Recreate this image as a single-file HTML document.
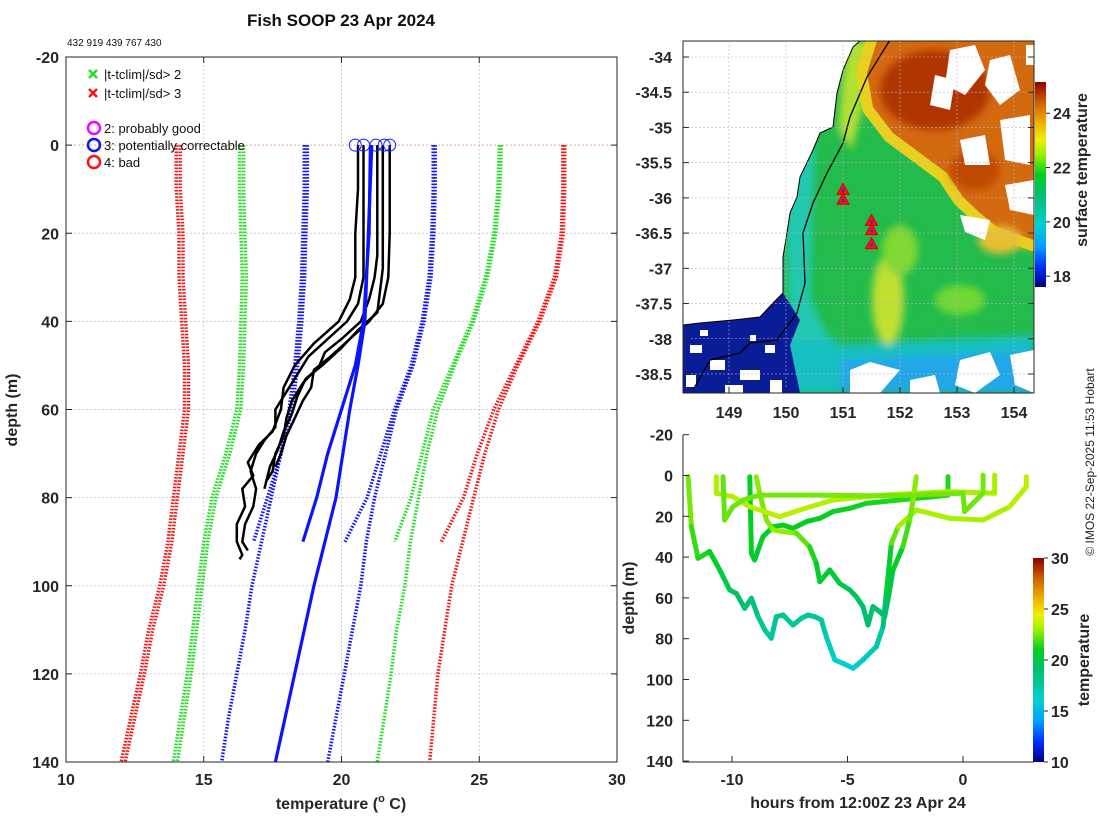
<!DOCTYPE html>
<html><head><meta charset="utf-8"><title>Fish SOOP 23 Apr 2024</title>
<style>
html,body{margin:0;padding:0;background:#fff;}
svg{display:block;font-family:"Liberation Sans","DejaVu Sans",sans-serif;}
.tk{font-weight:bold;font-size:16px;fill:#262626;}
.lb{font-weight:bold;font-size:16px;fill:#262626;}
</style></head>
<body>
<svg id="fig" width="1100" height="820" viewBox="0 0 1100 820">
<defs>
<clipPath id="clipMain"><rect x="66" y="57" width="551" height="705"/></clipPath>
<clipPath id="clipMap"><rect x="683" y="41" width="351" height="352"/></clipPath>
<clipPath id="clipBot"><rect x="683" y="410" width="350" height="352"/></clipPath>
<linearGradient id="cmapV" x1="0" y1="1" x2="0" y2="0">
<stop offset="0" stop-color="#000080"/><stop offset="0.1" stop-color="#0030ff"/><stop offset="0.2" stop-color="#00a0ff"/><stop offset="0.3" stop-color="#00d0d0"/><stop offset="0.45" stop-color="#00c070"/><stop offset="0.55" stop-color="#00d020"/><stop offset="0.65" stop-color="#a0f000"/><stop offset="0.72" stop-color="#f0f000"/><stop offset="0.8" stop-color="#f0b000"/><stop offset="0.9" stop-color="#d06000"/><stop offset="1" stop-color="#900000"/>
</linearGradient>
<filter id="soft"><feGaussianBlur stdDeviation="4"/></filter>
</defs>

<text x="341" y="26" text-anchor="middle" font-weight="bold" font-size="17" fill="#111">Fish SOOP 23 Apr 2024</text>
<text x="67" y="46" font-size="10" fill="#111">432 919 439 767 430</text>

<g id="mainAxes"></g>

<g id="map">
 <g clip-path="url(#clipMap)">
  <rect x="683" y="41" width="351" height="352" fill="#22bb4c"/>
  <g filter="url(#soft)">
   <polygon points="683,300 800,310 840,345 1034,335 1034,393 683,393" fill="#18c0c0"/>
   <polygon points="840,360 1034,350 1034,393 840,393" fill="#20a8e8"/>
   <polygon points="795,140 815,150 812,230 810,300 830,340 790,340 785,200" fill="#20c8b0"/>
   <ellipse cx="888" cy="300" rx="16" ry="45" fill="#c0e030"/>
   <ellipse cx="900" cy="250" rx="18" ry="25" fill="#80d830"/>
   <ellipse cx="960" cy="300" rx="25" ry="15" fill="#70d830"/>
   <polygon points="848,41 880,41 862,110 852,150 838,130 842,80" fill="#b0e030"/>
   <polygon points="990,210 1034,215 1034,250 1000,240" fill="#e8c020"/>
  </g>
  <polygon points="877,41 1034,41 1034,240 997,227 980,213 963,197 947,173 920,153 893,133 873,107 867,73" fill="none" stroke="#e8d020" stroke-width="22" stroke-linejoin="round"/>
  <polygon points="877,41 1034,41 1034,240 997,227 980,213 963,197 947,173 920,153 893,133 873,107 867,73" fill="#d46a10"/>
  <g filter="url(#soft)">
   <ellipse cx="935" cy="90" rx="55" ry="40" fill="#b03400"/>
   <ellipse cx="975" cy="170" rx="25" ry="20" fill="#c04a00"/>
   <ellipse cx="1000" cy="240" rx="22" ry="14" fill="#e8c030"/>
  </g>
  <g fill="#fff">
   <polygon points="950,50 975,45 985,70 965,95 945,85"/>
   <polygon points="990,60 1010,55 1020,90 1000,105 985,85"/>
   <polygon points="935,75 955,80 950,110 930,105"/>
   <polygon points="1000,120 1030,115 1030,165 1005,160"/>
   <polygon points="1005,185 1034,180 1034,215 1010,210"/>
   <polygon points="960,140 985,135 990,165 965,165"/>
   <polygon points="960,215 990,220 985,240 965,232"/>
   <rect x="1026" y="45" width="8" height="20"/>
   <polygon points="850,370 870,362 900,370 880,393 850,393"/>
   <polygon points="960,360 990,352 1000,375 975,393 955,385"/>
   <polygon points="1010,355 1034,350 1034,393 1015,385"/>
   <polygon points="910,380 935,375 940,393 910,393"/>
  </g>
  <polygon points="683,325 700,323 733,320 760,317 773,303 783,293 800,320 790,345 800,393 683,393" fill="#0a1c96"/>
  <g fill="#fff">
   <rect x="690" y="345" width="12" height="8"/><rect x="710" y="360" width="15" height="10"/><rect x="686" y="375" width="10" height="12"/><rect x="740" y="370" width="20" height="10"/><rect x="765" y="345" width="10" height="8"/><rect x="725" y="385" width="18" height="8"/><rect x="770" y="380" width="12" height="13"/><rect x="700" y="330" width="8" height="6"/><rect x="750" y="335" width="6" height="6"/>
  </g>
  <polygon points="683,41 860,41 853,47 843,70 837,93 833,127 820,133 813,150 800,177 797,197 790,213 787,233 783,257 783,293 773,303 760,317 733,320 700,323 683,325" fill="#fff" stroke="#000" stroke-width="1"/>
  <polyline points="890,40 867,77 850,117 843,143 827,173 813,203 803,233 805,283 797,313 777,340 750,343 740,353 710,360 693,390" fill="none" stroke="#000" stroke-width="1.3"/>
 </g>
 <rect x="683" y="41" width="351" height="352" fill="none" stroke="#262626" stroke-width="1"/>
 <g id="mapTicks"></g>
</g>

<g id="botAxes"></g>

<rect x="1035" y="82" width="11" height="205" fill="url(#cmapV)"/>
<g id="cb1"></g>
<text transform="translate(1087,170) rotate(-90)" text-anchor="middle" class="lb" font-size="16">surface temperature</text>
<rect x="1033" y="558" width="11" height="204" fill="url(#cmapV)"/>
<g id="cb2"></g>
<text transform="translate(1089,660) rotate(-90)" text-anchor="middle" class="lb">temperature</text>
<text transform="translate(1094,462) rotate(-90)" text-anchor="middle" font-size="12" fill="#222">© IMOS 22-Sep-2025 11:53 Hobart</text>
</svg>

<script>
const xTicks = [10, 15, 20, 25, 30];
const yTicks = [-20, 0, 20, 40, 60, 80, 100, 120, 140];
const climDepthLong = [0,10,20,30,40,50,60,70,80,90,100,110,120,130,140];
const climDepthShort = [0,10,20,30,40,50,60,70,80,90];
const redLeft  = [14.0,14.0,14.1,14.1,14.2,14.3,14.3,14.1,13.9,13.7,13.4,13.0,12.7,12.35,12.0];
const greenLeft= [16.3,16.3,16.35,16.4,16.35,16.3,16.2,15.8,15.3,15.0,14.8,14.6,14.4,14.15,13.9];
const blueLeft = [18.65,18.65,18.6,18.55,18.45,18.3,18.1,17.8,17.45,17.1,16.75,16.5,16.2,15.9,15.65];
const blueLeftShort = [18.65,18.65,18.6,18.55,18.45,18.3,18.1,17.7,17.2,16.7];
const blueRight = [23.4,23.4,23.35,23.25,23.0,22.6,22.0,21.6,21.2,20.9,20.7,20.4,20.1,19.8,19.5];
const blueRightShort = [23.4,23.4,23.35,23.25,23.0,22.6,22.0,21.5,21.0,20.2];
const greenRight = [25.8,25.75,25.6,25.3,24.8,24.1,23.5,23.1,22.8,22.5,22.3,22.0,21.8,21.55,21.3];
const greenRightShort = [25.8,25.75,25.6,25.3,24.8,24.1,23.4,23.0,22.6,22.0];
const redRight = [28.1,28.1,28.05,27.8,27.2,26.4,25.7,25.2,24.8,24.4,24.0,23.75,23.5,23.35,23.2];
const redRightShort = [28.1,28.1,28.05,27.8,27.2,26.4,25.6,25.0,24.5,23.7];
const clim1Depth = [0,20,40,50,60,70,80,90];
const clim1Temp  = [21.05,21.0,20.8,20.5,20.0,19.5,19.1,18.6];
const clim2Depth = [0,40,50,60,80,100,120,140];
const clim2Temp  = [21.1,20.85,20.6,20.3,19.8,19.0,18.3,17.6];
const p1Depth = [0,10,20,30,35,40,45,50,55,60,65,68,72,75,78,82,86,90,93,94];
const p1Temp  = [20.6,20.6,20.5,20.5,20.3,19.9,19.0,18.3,17.9,17.8,17.5,17.0,16.6,16.8,16.4,16.5,16.2,16.2,16.4,16.3];
const p2Depth = [0,30,36,40,44,48,52,56,60,64,67,70,74,78,82,86,90,92];
const p2Temp  = [20.8,20.8,20.6,20.2,19.5,18.8,18.4,18.0,17.6,17.6,17.2,16.9,16.7,16.9,16.8,16.5,16.4,16.6];
const p3Depth = [0,25,30,35,40,44,47,50,54,58,62,66,70,74,76];
const p3Temp  = [21.3,21.3,21.2,21.0,20.7,20.0,19.4,19.2,18.6,18.2,18.0,17.9,17.6,17.5,17.3];
const p4Depth = [0,28,33,38,42,46,50,53,57,61,65,69,73,78];
const p4Temp  = [21.5,21.5,21.4,21.3,20.6,20.0,19.3,18.7,18.4,18.2,17.9,17.7,17.4,17.2];
const p5Depth = [0,20,30,36,40,44,48,51,55,58,62,66,70,73];
const p5Temp  = [21.75,21.75,21.7,21.5,21.0,20.3,19.6,19.0,18.9,18.6,18.3,18.0,17.8,17.6];
const flagTemps = [20.5,20.8,21.25,21.55,21.75];
const flagDepths = [0,0,0,0,0];

const hTicks = [-10,-5,0];
const dTicks = [-20,0,20,40,60,80,100,120,140];
const t1Hours = [-11.9,-11.76,-11.47,-10.97,-10.53,-10.1,-9.81,-9.45,-9.16,-8.87,-8.58,-8.3,-8.08,-7.79,-7.36,-7.0,-6.71,-6.42,-6.13,-5.92,-5.55,-5.19,-4.76,-4.33,-3.75,-3.46,-3.32,-3.1,-2.81,-2.02,-0.57,0.87,2.02,2.74,2.74];
const t1Depth = [0.6,25.1,40.6,37.3,46.3,56.1,57.8,65.1,60.2,69.2,75.7,79.8,69.2,68.4,73.3,70.0,68.4,69.2,70.8,79.0,90.4,92.1,94.5,90.4,83.9,74.1,57.8,33.2,25.1,16.9,21.0,21.8,15.3,5.5,0.6];
const t1Temp  = [22.9,22.0,21.3,21.3,20.6,19.6,19.4,18.7,19.1,18.2,17.7,17.4,18.0,18.0,17.7,17.7,17.8,17.6,17.5,17.0,16.0,15.8,16.0,16.4,17.0,18.0,19.7,21.7,22.8,23.2,23.1,23.1,23.3,23.5,23.5];
const t2Hours = [-9.23,-9.16,-9.02,-8.66,-8.22,-7.79,-7.36,-6.78,-6.2,-5.63,-4.9,-4.18,-3.46,-2.74,-2.02,-1.3,-0.65,-0.65];
const t2Depth = [0.6,38.2,41.4,30.0,25.1,24.3,25.9,22.6,21.0,17.7,16.1,13.6,12.8,12.0,11.2,10.4,9.6,0.6];
const t2Temp  = [21.4,20.7,20.6,20.8,20.9,20.9,20.9,21.0,21.0,21.1,21.1,21.2,21.3,21.4,21.4,21.4,21.4,21.4];
const t3Hours = [-8.95,-8.8,-8.51,-8.22,-7.79,-7.21,-6.64,-6.35,-6.2,-5.77,-5.34,-4.9,-4.62,-4.33,-4.11,-3.9,-3.61,-3.39,-3.25,-3.03,-2.6,-2.31,-2.16,-2.02];
const t3Depth = [0.6,8.7,21.8,26.7,27.5,28.3,34.9,43.1,52.0,46.3,52.9,56.1,59.4,64.3,73.3,64.3,66.7,69.2,61.0,46.3,34.9,21.8,12.0,0.6];
const t3Temp  = [22.8,22.6,22.4,22.8,22.9,22.6,21.8,21.0,20.4,20.6,20.2,19.8,19.5,19.2,18.8,19.2,19.0,18.8,19.5,20.5,21.4,22.3,22.6,22.8];
const t4Hours = [-10.68,-10.68,-9.96,-9.23,-7.94,-7.07,-5.63,-3.46,-0.57,1.37,1.37];
const t4Depth = [0.6,8.7,10.4,15.3,20.2,16.9,12.0,9.6,7.9,8.7,-0.2];
const t4Temp  = [23.2,23.2,23.3,23.4,23.5,23.4,23.3,23.2,23.1,23.1,23.1];
const t5Hours = [-10.39,-10.32,-9.96,-9.52,-8.8,-6.35,-3.46,0.0,0.07,0.87,0.87];
const t5Depth = [0.6,21.8,15.3,12.0,9.6,9.6,10.0,8.7,17.7,8.7,-0.2];
const t5Temp  = [22.3,22.2,22.3,22.4,22.4,22.5,22.5,22.4,22.3,22.4,22.5];

const lonTicks = [149,150,151,152,153,154];
const latTicks = [-34,-34.5,-35,-35.5,-36,-36.5,-37,-37.5,-38,-38.5];
const stationLon = [151.0,151.0,151.5,151.5,151.5];
const stationLat = [-35.88,-36.02,-36.32,-36.45,-36.65];
const sstTicks = [18,20,22,24];
const tempTicks = [10,15,20,25,30];

const NS='http://www.w3.org/2000/svg';
function mk(tag, attrs, parent){const e=document.createElementNS(NS,tag);for(const k in attrs)e.setAttribute(k,attrs[k]);parent.appendChild(e);return e;}

const xS = t => 66 + (t-10)*551/20;
const yS = d => 57 + (d+20)*705/160;
const hS = h => 963 + h*23.1;
const dS = d => 475.5 + d*2.04;
const lonS = l => 729 + (l-149)*57;
const latS = l => 57 + (-34-l)*70.44;

const cstops=[[0,[0,0,128]],[0.1,[0,48,255]],[0.2,[0,160,255]],[0.3,[0,208,208]],[0.45,[0,192,112]],[0.55,[0,208,32]],[0.65,[160,240,0]],[0.72,[240,240,0]],[0.8,[240,176,0]],[0.9,[208,96,0]],[1,[144,0,0]]];
function cmap(t){t=Math.max(0,Math.min(1,t));for(let i=1;i<cstops.length;i++){if(t<=cstops[i][0]){const a=cstops[i-1],b=cstops[i];const f=(t-a[0])/(b[0]-a[0]);const c=a[1].map((v,j)=>Math.round(v+(b[1][j]-v)*f));return 'rgb('+c.join(',')+')';}}return 'rgb(144,0,0)';}

const G=document.getElementById('mainAxes');
xTicks.slice(1,-1).forEach(t=>{const l=mk('line',{x1:xS(t),x2:xS(t),y1:57,y2:762,stroke:'#c8c8e0','stroke-width':1,'stroke-dasharray':'2,2'},G);

});
yTicks.slice(1,-1).forEach(d=>{const l=mk('line',{x1:66,x2:617,y1:yS(d),y2:yS(d),stroke:d===0?'#e0b090':'#c8c8e0','stroke-width':1,'stroke-dasharray':'2,2'},G);

});
const CG=mk('g',{'clip-path':'url(#clipMain)'},G);
function dotted(depths,temps,color,dx,name){const pts=depths.map((d,i)=>(xS(temps[i])+dx).toFixed(1)+','+yS(d).toFixed(1)).join(' ');
const p=mk('polyline',{points:pts,fill:'none',stroke:color,'stroke-width':3.5,'stroke-dasharray':'1.6,1.6'},CG);

}
dotted(climDepthLong,redLeft,'#ff1010',0,'clim-red-left');dotted(climDepthLong,redLeft,'#ff1010',4,'clim-red-left-2');
dotted(climDepthLong,greenLeft,'#20e020',0,'clim-green-left');dotted(climDepthLong,greenLeft,'#20e020',4,'clim-green-left-2');
dotted(climDepthLong,blueLeft,'#1010ff',0,'clim-blue-left');dotted(climDepthShort,blueLeftShort,'#1010ff',3,'clim-blue-left-short');
dotted(climDepthLong,blueRight,'#1010ff',0,'clim-blue-right');dotted(climDepthShort,blueRightShort,'#1010ff',-2,'clim-blue-right-short');
dotted(climDepthLong,greenRight,'#20e020',0,'clim-green-right');dotted(climDepthShort,greenRightShort,'#20e020',-2,'clim-green-right-short');
dotted(climDepthLong,redRight,'#ff1010',0,'clim-red-right');dotted(climDepthShort,redRightShort,'#ff1010',-2,'clim-red-right-short');
function solid(depths,temps,color,w,name){const pts=depths.map((d,i)=>xS(temps[i]).toFixed(1)+','+yS(d).toFixed(1)).join(' ');
const p=mk('polyline',{points:pts,fill:'none',stroke:color,'stroke-width':w,'stroke-linejoin':'round'},CG);

}
[[p1Depth,p1Temp],[p2Depth,p2Temp],[p3Depth,p3Temp],[p4Depth,p4Temp],[p5Depth,p5Temp]].forEach((p,i)=>solid(p[0],p[1],'#000',2.5,'xbt-profile-'+(i+1)));
solid(clim1Depth,clim1Temp,'#0a14ff',3.2,'mean-clim-1');
solid(clim2Depth,clim2Temp,'#0a14ff',3.2,'mean-clim-2');
flagTemps.forEach((t,i)=>{const c=mk('circle',{cx:xS(t),cy:yS(flagDepths[i]),r:6,fill:'none',stroke:'#1020ff','stroke-width':1},G);

});
mk('rect',{x:66,y:57,width:551,height:705,fill:'none',stroke:'#262626','stroke-width':1},G);
xTicks.forEach(t=>{mk('line',{x1:xS(t),x2:xS(t),y1:57,y2:63,stroke:'#262626'},G);mk('line',{x1:xS(t),x2:xS(t),y1:762,y2:756,stroke:'#262626'},G);
const tx=mk('text',{x:xS(t),y:785,'text-anchor':'middle',class:'tk'},G);tx.textContent=t;

});
yTicks.forEach(d=>{mk('line',{x1:66,x2:72,y1:yS(d),y2:yS(d),stroke:'#262626'},G);mk('line',{x1:617,x2:611,y1:yS(d),y2:yS(d),stroke:'#262626'},G);
const tx=mk('text',{x:59,y:yS(d)+6,'text-anchor':'end',class:'tk'},G);tx.textContent=d;

});
let t=mk('text',{x:341,y:809,'text-anchor':'middle',class:'lb'},G);t.innerHTML='temperature (<tspan font-size="11" dy="-7">o</tspan><tspan dy="7"> C)</tspan>';


t=mk('text',{transform:'translate(17,410) rotate(-90)','text-anchor':'middle',class:'lb'},G);t.textContent='depth (m)';


const LG=mk('g',{},G);


[['#20e020','|t-tclim|/sd> 2',74],['#ff1010','|t-tclim|/sd> 3',93]].forEach(r=>{const y=r[2];
mk('path',{d:`M89 ${y-4} l8 8 M97 ${y-4} l-8 8`,stroke:r[0],'stroke-width':2.5},LG);
const tt=mk('text',{x:104,y:y+5,'font-size':13,fill:'#111'},LG);tt.textContent=r[1];

});
[['#ff00ff','2: probably good',128],['#1010ff','3: potentially correctable',145],['#ff1010','4: bad',162]].forEach(r=>{const y=r[2];
mk('circle',{cx:94,cy:y,r:6,fill:'none',stroke:r[0],'stroke-width':2.5},LG);
const tt=mk('text',{x:104,y:y+5,'font-size':13,fill:'#111'},LG);tt.textContent=r[1];

});

const MG=document.getElementById('mapTicks');
lonTicks.forEach(l=>{mk('line',{x1:lonS(l),x2:lonS(l),y1:41,y2:393,stroke:'#b0b0d0','stroke-width':0.6,'stroke-dasharray':'2,2'},MG);
mk('line',{x1:lonS(l),x2:lonS(l),y1:393,y2:387,stroke:'#262626'},MG);
const tx=mk('text',{x:lonS(l),y:418,'text-anchor':'middle',class:'tk'},MG);tx.textContent=l;

});
latTicks.forEach(l=>{mk('line',{x1:683,x2:1034,y1:latS(l),y2:latS(l),stroke:'#b0b0d0','stroke-width':0.6,'stroke-dasharray':'2,2'},MG);
mk('line',{x1:683,x2:689,y1:latS(l),y2:latS(l),stroke:'#262626'},MG);mk('line',{x1:1034,x2:1028,y1:latS(l),y2:latS(l),stroke:'#262626'},MG);
const tx=mk('text',{x:672,y:latS(l)+6,'text-anchor':'end',class:'tk'},MG);tx.textContent=l;

});
stationLon.forEach((lo,i)=>{const x=lonS(lo),y=latS(stationLat[i]);
const p=mk('polygon',{points:`${x},${y-6} ${x-6},${y+5} ${x+6},${y+5}`,fill:'#ff1010',stroke:'#d00','stroke-width':1},MG);


mk('circle',{cx:x,cy:y+1,r:1.5,fill:'#2030ff'},MG);});

const B=document.getElementById('botAxes');
const BC=mk('g',{'clip-path':'url(#clipBot)'},B);
const tMin=10,tMax=30;
function trace(hs,ds,ts,name){const g=mk('g',{},BC);


for(let i=0;i<hs.length-1;i++){const tm=(ts[i]+ts[i+1])/2;
mk('line',{x1:hS(hs[i]),y1:dS(ds[i]),x2:hS(hs[i+1]),y2:dS(ds[i+1]),stroke:cmap((tm-tMin)/(tMax-tMin)),'stroke-width':5,'stroke-linecap':'round'},g);}}
trace(t1Hours,t1Depth,t1Temp,'tow-track-1');
trace(t2Hours,t2Depth,t2Temp,'tow-track-2');
trace(t3Hours,t3Depth,t3Temp,'tow-track-3');
trace(t4Hours,t4Depth,t4Temp,'tow-track-4');
trace(t5Hours,t5Depth,t5Temp,'tow-track-5');
mk('line',{x1:683,x2:683,y1:dS(-20),y2:762,stroke:'#262626'},B);
mk('line',{x1:683,x2:1034,y1:762,y2:762,stroke:'#262626'},B);
hTicks.forEach(h=>{mk('line',{x1:hS(h),x2:hS(h),y1:762,y2:756,stroke:'#262626'},B);
const tx=mk('text',{x:hS(h),y:785,'text-anchor':'middle',class:'tk'},B);tx.textContent=h;

});
dTicks.forEach(d=>{mk('line',{x1:683,x2:689,y1:dS(d),y2:dS(d),stroke:'#262626'},B);
const tx=mk('text',{x:673,y:dS(d)+6,'text-anchor':'end',class:'tk'},B);tx.textContent=d;

});
t=mk('text',{x:858,y:808,'text-anchor':'middle',class:'lb'},B);t.textContent='hours from 12:00Z 23 Apr 24';


t=mk('text',{transform:'translate(634,598) rotate(-90)','text-anchor':'middle',class:'lb'},B);t.textContent='depth (m)';



const C1=document.getElementById('cb1');
sstTicks.forEach(v=>{const y=287-(v-17.6)*205/7.55;
mk('line',{x1:1046,x2:1050,y1:y,y2:y,stroke:'#262626'},C1);
const tx=mk('text',{x:1053,y:y+6,class:'tk'},C1);tx.textContent=v;

});
const C2=document.getElementById('cb2');
tempTicks.forEach(v=>{const y=762-(v-10)*204/20;
mk('line',{x1:1044,x2:1048,y1:y,y2:y,stroke:'#262626'},C2);
const tx=mk('text',{x:1051,y:y+6,class:'tk'},C2);tx.textContent=v;

});
</script>
</body></html>
